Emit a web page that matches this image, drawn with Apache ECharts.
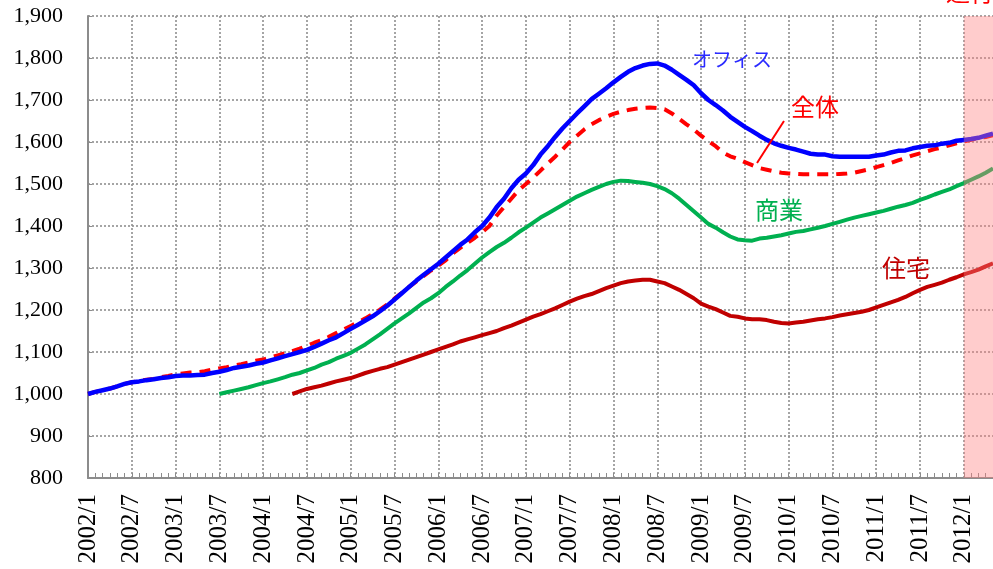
<!DOCTYPE html>
<html>
<head>
<meta charset="utf-8">
<script src="https://cdn.jsdelivr.net/npm/echarts@6/dist/echarts.min.js"></script>
<style>
html,body{margin:0;padding:0;background:#fff;}
#chart{width:993px;height:569px;}
</style>
</head>
<body>
<div id="chart"></div>
<script>
// Months 2002/1 .. 2012/5
const startYear = 2002;
const monthCount = 125;
const categories = [];
for (let i = 0; i < monthCount; i++) {
  categories.push((startYear + Math.floor(i / 12)) + '/' + (i % 12 + 1));
}
const yTicks = [800, 900, 1000, 1100, 1200, 1300, 1400, 1500, 1600, 1700, 1800, 1900];

// オフィス (from 2002/1)
const office = [
  1000,1005,1009,1013,1018,1024,1028,1030,1033,1035,1038,1040,
  1043,1044,1044,1045,1046,1050,1053,1057,1062,1065,1068,1072,
  1075,1080,1085,1090,1095,1100,1105,1112,1120,1128,1135,1145,
  1155,1165,1175,1185,1197,1210,1225,1240,1255,1270,1284,1297,
  1310,1325,1340,1355,1368,1385,1400,1420,1445,1465,1490,1510,
  1525,1545,1570,1590,1612,1632,1650,1668,1685,1702,1715,1728,
  1742,1755,1767,1776,1782,1786,1787,1782,1772,1760,1748,1735,
  1716,1700,1688,1675,1660,1648,1636,1626,1615,1605,1597,1591,
  1586,1582,1577,1572,1570,1570,1566,1565,1565,1565,1565,1565,
  1568,1570,1575,1579,1580,1585,1588,1591,1592,1596,1598,1603,
  1605,1607,1610,1615,1620
];
// 全体 (from 2002/1)
const total = [
  1000,1005,1009,1013,1018,1024,1028,1031,1034,1036,1040,1043,
  1047,1049,1051,1052,1054,1058,1061,1064,1068,1071,1075,1079,
  1082,1087,1092,1097,1102,1108,1115,1122,1128,1136,1145,1153,
  1162,1171,1180,1190,1201,1213,1227,1241,1255,1268,1281,1294,
  1306,1318,1335,1348,1360,1372,1385,1400,1425,1445,1465,1485,
  1500,1515,1532,1549,1565,1582,1600,1615,1630,1642,1652,1660,
  1667,1672,1676,1679,1681,1682,1681,1678,1668,1655,1642,1630,
  1615,1602,1590,1575,1566,1560,1552,1545,1538,1534,1530,1527,
  1525,1524,1523,1523,1523,1523,1523,1524,1525,1527,1531,1535,
  1540,1545,1550,1556,1562,1568,1573,1578,1583,1587,1592,1597,
  1601,1605,1609,1612,1616
];
// 商業 (from 2003/7)
const commercialStart = 18;
const commercial = [
  1000,1004,1008,1012,1016,1021,
  1026,1030,1035,1040,1046,1050,1056,1062,1070,1076,1084,1091,
  1098,1108,1118,1130,1142,1155,1168,1180,1192,1205,1218,1228,
  1240,1255,1268,1282,1295,1310,1325,1338,1350,1360,1372,1385,
  1396,1408,1420,1430,1440,1450,1460,1470,1478,1486,1493,1500,
  1505,1508,1507,1505,1503,1500,1495,1488,1478,1465,1450,1435,
  1420,1405,1396,1385,1375,1368,1366,1365,1370,1372,1375,1378,
  1382,1386,1388,1392,1396,1400,1405,1410,1415,1420,1424,1428,
  1432,1436,1441,1446,1450,1455,1462,1468,1475,1481,1487,1495,
  1502,1510,1518,1527,1537
];
// 住宅 (from 2004/5)
const residentialStart = 28;
const residential = [
  1000,1006,1012,1016,1020,1025,1030,1034,
  1038,1044,1050,1055,1060,1064,1070,1076,1082,1088,1094,1100,
  1106,1112,1118,1125,1130,1135,1140,1145,1150,1157,1163,1170,
  1177,1184,1190,1197,1204,1212,1220,1227,1233,1238,1245,1252,
  1258,1264,1268,1270,1272,1272,1268,1264,1256,1248,1238,1228,
  1215,1208,1202,1194,1186,1184,1180,1178,1178,1176,1172,1169,
  1168,1170,1172,1175,1178,1180,1183,1187,1190,1193,1196,1200,
  1206,1212,1218,1224,1231,1240,1248,1255,1260,1265,1272,1278,
  1285,1290,1296,1304,1311
];
const shadeFrom = '2012/1';
const shadeTo = '2012/5';

function pad(start, arr) {
  return new Array(start).fill(null).concat(arr);
}

const serifFont = '"Liberation Serif", "DejaVu Serif", serif';
const jpFont = '"Noto Sans CJK JP", "Noto Sans", sans-serif';
const gridLine = { color: '#8f8f8f', width: 1.6, type: [2, 2] };

const chart = echarts.init(document.getElementById('chart'), null, { renderer: 'canvas' });
chart.setOption({
  animation: false,
  backgroundColor: '#fff',
  grid: { left: 88, right: 0, top: 16, bottom: 91, containLabel: false },
  xAxis: {
    type: 'category',
    data: categories,
    boundaryGap: false,
    axisLine: { lineStyle: { color: '#8c8c8c', width: 2 } },
    axisTick: { show: true, inside: true, length: 5, interval: 0, lineStyle: { color: '#8c8c8c', width: 1 } },
    axisLabel: {
      interval: 5, rotate: 90, margin: 16,
      fontFamily: serifFont, fontSize: 25, color: '#000'
    },
    splitLine: { show: true, interval: 5, lineStyle: gridLine }
  },
  yAxis: {
    type: 'value',
    min: yTicks[0], max: yTicks[yTicks.length - 1], interval: 100,
    axisLine: { show: true, lineStyle: { color: '#8c8c8c', width: 2 } },
    axisTick: { show: true, inside: true, length: 4, lineStyle: { color: '#8c8c8c' } },
    axisLabel: {
      margin: 25, fontFamily: serifFont, fontSize: 22, color: '#000',
      formatter: function (v) {
        return v >= 1000 ? Math.floor(v / 1000) + ',' + String(v % 1000).padStart(3, '0') : String(v);
      }
    },
    splitLine: { show: true, lineStyle: gridLine }
  },
  series: [
    {
      name: '全体', type: 'line', data: total, showSymbol: false, z: 3,
      lineStyle: { color: '#ff0000', width: 4, type: [11, 8] }
    },
    {
      name: '商業', type: 'line', data: pad(commercialStart, commercial), showSymbol: false, z: 3,
      lineStyle: { color: '#00b050', width: 4 }
    },
    {
      name: '住宅', type: 'line', data: pad(residentialStart, residential), showSymbol: false, z: 3,
      lineStyle: { color: '#c00000', width: 4 }
    },
    {
      name: 'オフィス', type: 'line', data: office, showSymbol: false, z: 4,
      lineStyle: { color: '#0000ff', width: 4.5 }
    },
    {
      name: 'shade', type: 'line', data: [], z: 10, silent: true,
      markArea: {
        silent: true, z: 10,
        itemStyle: { color: 'rgba(255,128,128,0.4)' },
        data: [[{ xAxis: shadeFrom }, { xAxis: shadeTo }]]
      }
    }
  ],
  graphic: [
    { type: 'text', left: 692, top: 49, z: 20,
      style: { text: 'オフィス', font: '20px ' + jpFont, fill: '#2a2aff' } },
    { type: 'text', left: 791, top: 95, z: 20,
      style: { text: '全体', font: '24px ' + jpFont, fill: '#ff0000' } },
    { type: 'line', z: 20,
      shape: { x1: 784, y1: 121, x2: 757, y2: 163 },
      style: { stroke: '#ff0000', lineWidth: 2 } },
    { type: 'text', left: 755, top: 198, z: 20,
      style: { text: '商業', font: '24px ' + jpFont, fill: '#00b050' } },
    { type: 'text', left: 882, top: 256, z: 20,
      style: { text: '住宅', font: '24px ' + jpFont, fill: '#c00000' } },
    { type: 'text', left: 946, top: -20, z: 20,
      style: { text: '遅行期間', font: '24px ' + jpFont, fill: '#ff0000' } }
  ]
});
</script>
</body>
</html>
